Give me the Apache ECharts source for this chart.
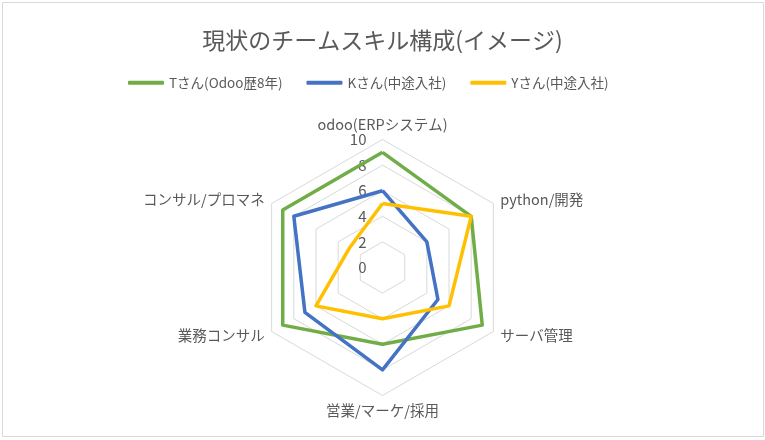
<!DOCTYPE html>
<html>
<head>
<meta charset="utf-8">
<script src="https://cdn.jsdelivr.net/npm/echarts@6/dist/echarts.min.js"></script>
<style>
  html, body { margin: 0; padding: 0; background: #fff; }
  #chart { width: 765px; height: 440px; }
</style>
</head>
<body>
<div id="chart"></div>
<script>
// 指標（上から反時計回り）
var indicators = ['odoo(ERPシステム)', 'コンサル/プロマネ', '業務コンサル', '営業/マーケ/採用', 'サーバ管理', 'python/開発']
var seriesNames = ['Tさん(Odoo歴8年)', 'Kさん(中途入社)', 'Yさん(中途入社)']
var seriesColors = ['#70AD47', '#4472C4', '#FFC000']
var tValues = [9, 9, 9, 6, 9, 8]
var kValues = [6, 8, 7, 8, 5, 4]
var yValues = [5, 3, 6, 4, 6, 8]
var axisMax = 10
var axisStep = 2

var font = '"Noto Sans CJK JP", "Noto Sans", sans-serif'
var center = ['50%', 267.5]
var radius = 128

var allValues = [tValues, kValues, yValues]
var chart = echarts.init(document.getElementById('chart'))
chart.setOption({
  backgroundColor: '#fff',
  title: {
    text: '現状のチームスキル構成(イメージ)',
    left: 'center',
    top: 24,
    textStyle: { color: '#595959', fontSize: 23, fontWeight: 400, fontFamily: font }
  },
  legend: {
    top: 76,
    left: 128,
    padding: 0,
    itemGap: 24,
    itemWidth: 36,
    itemHeight: 4,
    icon: 'roundRect',
    data: seriesNames,
    textStyle: { color: '#595959', fontSize: 13.5, fontFamily: font }
  },
  // 目盛ラベル用の極座標
  polar: { center: center, radius: radius },
  angleAxis: { show: false, startAngle: 90, min: 0, max: 360 },
  radiusAxis: {
    min: 0,
    max: axisMax,
    interval: axisStep,
    axisLine: { show: false },
    axisTick: { show: false },
    splitLine: { show: false },
    axisLabel: { color: '#595959', fontSize: 15, fontFamily: font, margin: 16 }
  },
  radar: {
    center: center,
    radius: radius,
    startAngle: 90,
    splitNumber: axisMax / axisStep,
    shape: 'polygon',
    indicator: indicators.map(function (name) { return { name: name, min: 0, max: axisMax } }),
    axisName: { color: '#595959', fontSize: 14.5, fontFamily: font },
    nameGap: 8,
    axisLine: { show: false },
    axisTick: { show: false },
    splitArea: { show: false },
    splitLine: { lineStyle: { color: '#d9d9d9', width: 1 } }
  },
  series: [{
    type: 'radar',
    symbol: 'none',
    data: seriesNames.map(function (name, i) {
      return {
        name: name,
        value: allValues[i],
        lineStyle: { color: seriesColors[i], width: 3.5 },
        itemStyle: { color: seriesColors[i] }
      }
    })
  }],
  graphic: [{
    type: 'rect',
    shape: { x: 2.5, y: 2.5, width: 761, height: 434 },
    style: { fill: 'none', stroke: '#d9d9d9', lineWidth: 1 },
    silent: true
  }]
})
</script>
</body>
</html>
